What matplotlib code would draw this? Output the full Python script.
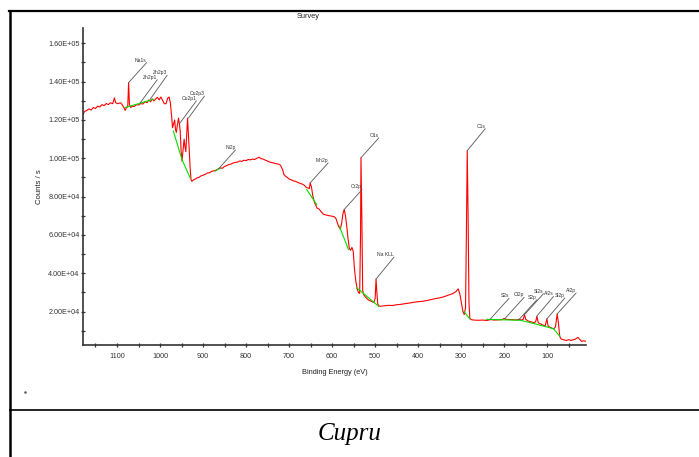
import numpy as np
import matplotlib
matplotlib.use("Agg")
import matplotlib.pyplot as plt
from matplotlib.ticker import MultipleLocator, FuncFormatter
from matplotlib.lines import Line2D

# ---------------- data ----------------
be = [1179, 1175, 1170, 1165, 1160, 1155, 1150, 1145, 1140, 1135, 1130, 1125, 1120, 1115, 1110,
      1106, 1103, 1098, 1092, 1088, 1084, 1081, 1078, 1075, 1073, 1071, 1068, 1064, 1060, 1055,
      1050, 1045, 1040, 1035, 1030, 1026, 1022, 1018, 1014, 1010, 1006, 1002, 998, 994, 990,
      986, 982, 979, 976, 973, 971, 968, 966, 964, 962, 960, 957, 955, 953, 951, 949, 947, 944,
      942, 940, 938, 936, 934, 932, 930, 928, 926, 922, 918, 914, 910, 905, 900, 895, 890, 885,
      880, 875, 870, 865, 860, 855, 850, 845, 840, 835, 830, 825, 820, 815, 810, 805, 800, 795,
      790, 785, 780, 775, 770, 765, 760, 755, 750, 745, 740, 735, 730, 725, 720, 715, 712, 708,
      704, 700, 695, 690, 685, 680, 675, 670, 665, 660, 656, 653, 651, 648, 645, 641, 638, 635,
      630, 625, 620, 615, 610, 605, 600, 595, 591, 588, 585, 581, 578, 575, 572, 569, 566, 563,
      560, 557, 554, 551, 548, 545, 542, 539, 536, 534, 533, 531, 529, 527, 524, 520, 515, 510,
      506, 503, 500, 498, 496, 494, 491, 488, 480, 470, 460, 450, 440, 430, 420, 410, 400, 390,
      380, 370, 360, 350, 340, 330, 320, 312, 307, 303, 299, 296, 293, 290, 288, 286, 284, 282,
      280, 276, 270, 260, 250, 240, 235, 229, 225, 215, 205, 200, 197, 190, 180, 170, 165, 160,
      156, 153, 150, 145, 140, 135, 130, 127, 124, 121, 115, 110, 105, 101, 98, 95, 90, 85, 81,
      77, 74, 71, 68, 64, 60, 55, 50, 45, 40, 35, 30, 28, 25, 20, 15, 10]
counts = [123.0, 124.5, 125.0, 125.8, 125.2, 126.5, 126.0, 127.2, 126.8, 128.0, 127.5, 128.6, 128.0, 129.0, 128.5,
          131.5, 129.0, 128.5, 129.0, 128.0, 126.5, 125.0, 126.5, 127.0, 139.5, 128.0, 126.5, 127.2, 127.0, 128.0,
          127.8, 128.6, 128.3, 129.5, 129.0, 130.5, 129.5, 131.0, 130.0, 131.0, 131.8, 130.5, 132.0, 130.2, 128.5,
          128.5, 131.5, 132.0, 129.0, 122.0, 116.0, 118.5, 120.0, 115.0, 113.5, 117.0, 121.0, 118.0, 114.0, 104.0, 98.5, 103.0, 110.0,
          106.0, 103.5, 112.0, 121.0, 113.0, 104.0, 95.0, 89.0, 88.0, 88.8, 89.2, 89.8, 90.0, 90.8, 91.2, 91.6, 92.3, 92.5,
          93.2, 93.5, 93.8, 94.4, 95.0, 94.8, 95.8, 96.2, 96.8, 97.0, 97.6, 97.9, 98.0, 98.6, 98.4, 99.0, 98.8, 99.4,
          99.2, 99.6, 99.4, 100.0, 100.6, 99.8, 99.6, 99.0, 98.6, 98.0, 97.8, 97.5, 97.2, 97.0, 96.4, 94.0, 91.5, 90.6,
          90.0, 89.2, 88.8, 88.2, 88.0, 87.4, 87.0, 86.6, 86.0, 84.8, 84.5, 84.2, 87.2, 85.0, 80.5, 77.0, 75.5, 74.0,
          73.5, 72.0, 70.8, 70.5, 70.2, 70.0, 69.8, 69.5, 68.5, 66.5, 64.5, 63.0, 66.0, 71.0, 73.3, 70.0, 64.5, 58.0,
          53.0, 52.0, 53.5, 51.5, 42.0, 36.0, 32.0, 30.0, 29.5, 60.0, 100.3, 70.0, 31.0, 29.0, 28.0, 27.0, 26.0, 25.5,
          25.0, 24.8, 27.0, 37.0, 30.0, 24.0, 23.0, 22.8, 23.0, 23.3, 23.2, 23.6, 23.8, 24.2, 24.5, 24.9, 25.2, 25.4,
          25.8, 26.3, 26.8, 27.2, 27.8, 28.6, 29.4, 30.5, 31.9, 29.0, 24.0, 20.0, 18.5, 22.0, 60.0, 104.0, 70.0, 25.0,
          16.5, 15.8, 15.6, 15.5, 15.6, 15.4, 15.7, 15.9, 15.6, 15.7, 15.8, 16.5, 16.0, 15.9, 15.8, 15.7, 16.0, 15.6,
          16.0, 18.4, 16.0, 15.2, 14.8, 14.5, 14.2, 14.8, 17.5, 14.2, 13.5, 13.0, 12.5, 16.2, 12.5, 12.0, 11.5, 11.0, 12.0,
          18.8, 14.0, 7.0, 5.8, 5.5, 5.2, 5.0, 5.4, 5.0, 5.3, 5.6, 6.4, 6.5, 5.6, 4.5, 4.8, 4.5]
counts = [c * 1000 for c in counts]

# background (green) segments: binding energies and counts
bg_be = [[1081, 1050, 1016],
         [969, 949, 930],
         [872, 860],
         [659, 636],
         [583, 562],
         [543, 492],
         [294, 280],
         [241, 163, 140, 94, 85, 71]]
bg_counts = [[126.5, 128.5, 130.8],
             [114.2, 99.4, 89.8],
             [93.3, 95.0],
             [83.7, 75.9],
             [64.5, 52.4],
             [32.5, 22.8],
             [20.2, 16.2],
             [16.0, 15.5, 14.3, 11.6, 11.0, 7.2]]

# peak labels
peak_names = ["Na1s", "Zn2p1", "Zn2p3", "Cu2p1", "Cu2p3", "Ni2p", "Mn2p", "Cr2p", "O1s",
              "Na KLL", "C1s", "S2s", "Cl2p", "S2p", "Si2s", "Al2s", "Si2p", "Al2p"]
peak_be = [1073, 1046, 1023, 955, 934, 864, 651, 572, 533, 498, 286, 233, 198, 166, 153, 125, 101, 77]
peak_counts = [139.5, 129.0, 130.8, 118.0, 121.0, 94.5, 87.2, 73.3, 100.3, 37.0, 104.0, 16.0,
               16.5, 15.8, 18.4, 17.5, 16.2, 18.8]
peak_counts = [c * 1000 for c in peak_counts]
# leader offsets (pixels) - style only
label_dx = [18, 17, 17, 17, 16, 17, 18, 18, 18, 18, 18, 19, 19, 18, 19, 17, 18, 19]
label_dy = [20, 23, 24, 23, 22, 19, 20, 20, 20, 22, 22, 21, 21, 20, 21, 20, 21, 21]

x_major = 100
x_minor = 50
y_major = 20000
y_minor = 10000

# ---------------- figure ----------------
fig = plt.figure(figsize=(6.99, 4.57), dpi=100)
fig.patch.set_facecolor("white")
ax = fig.add_axes([83 / 699, 1 - 345 / 457, 503 / 699, 317 / 457])

ax.plot(be, counts, color="#ff0000", lw=0.8, zorder=2)
for bx, by in zip(bg_be, bg_counts):
    ax.plot(bx, [v * 1000 for v in by], color="#00e000", lw=0.8, zorder=3)

ax.set_xlim(1179, 10)
ax.set_ylim(2600, 168000)

for s in ["top", "right"]:
    ax.spines[s].set_visible(False)
for s in ["left", "bottom"]:
    ax.spines[s].set_color("#333333")
    ax.spines[s].set_linewidth(1.2)

ax.xaxis.set_major_locator(MultipleLocator(x_major))
ax.xaxis.set_minor_locator(MultipleLocator(x_minor))
ax.yaxis.set_major_locator(MultipleLocator(y_major))
ax.yaxis.set_minor_locator(MultipleLocator(y_minor))
ax.yaxis.set_major_formatter(FuncFormatter(lambda v, p: f"{v:.2E}"))
ax.xaxis.set_major_formatter(FuncFormatter(lambda v, p: f"{v:.0f}"))

tick_font = dict(family="Liberation Sans", size=5.2)
ax.tick_params(axis="both", which="both", direction="inout", length=3, width=0.9,
               color="#333333", labelcolor="#333333")
ax.tick_params(axis="x", which="major", pad=4.5)
ax.tick_params(axis="y", which="major", pad=1.0)
for lab in ax.get_xticklabels() + ax.get_yticklabels():
    lab.set_fontfamily("Liberation Sans")
    lab.set_fontsize(5.2)

ax.set_xlabel("Binding Energy (eV)", fontfamily="Liberation Sans", fontsize=5.3, color="#222222")
ax.xaxis.set_label_coords(0.5, -0.077)
ax.set_ylabel("Counts / s", fontfamily="Liberation Sans", fontsize=5.6, color="#222222")
ax.yaxis.set_label_coords(-0.08, 0.5)

for name, bx, by, dx, dy in zip(peak_names, peak_be, peak_counts, label_dx, label_dy):
    ax.annotate(name, xy=(bx, by), xytext=(dx, dy), textcoords="offset pixels",
                ha="right", va="bottom", fontsize=3.6, family="Liberation Sans", color="#333333",
                arrowprops=dict(arrowstyle="-", color="#555555", lw=0.6, shrinkA=0, shrinkB=0,
                                relpos=(1, 0), patchA=None), zorder=4)

fig.text(308 / 699, 1 - 16.5 / 457, "Survey", ha="center", va="center",
         fontfamily="Liberation Sans", fontsize=5.3, color="#222222")

# table frame
fig.add_artist(Line2D([9 / 699, 1], [1 - 11 / 457] * 2, color="black", lw=1.6))
fig.add_artist(Line2D([10 / 699] * 2, [0, 1 - 11 / 457], color="black", lw=1.8))
fig.add_artist(Line2D([10 / 699, 1], [1 - 410 / 457] * 2, color="black", lw=1.2))
fig.add_artist(Line2D([24.5 / 699], [1 - 392 / 457], marker="o", markersize=0.8,
                      color="#555555", lw=0))

fig.text(0.5, 1 - 440 / 457, "Cupru", ha="center", va="baseline",
         fontfamily="Liberation Serif", fontstyle="italic", fontsize=18, color="black")

fig.savefig("out.png", dpi=100)
